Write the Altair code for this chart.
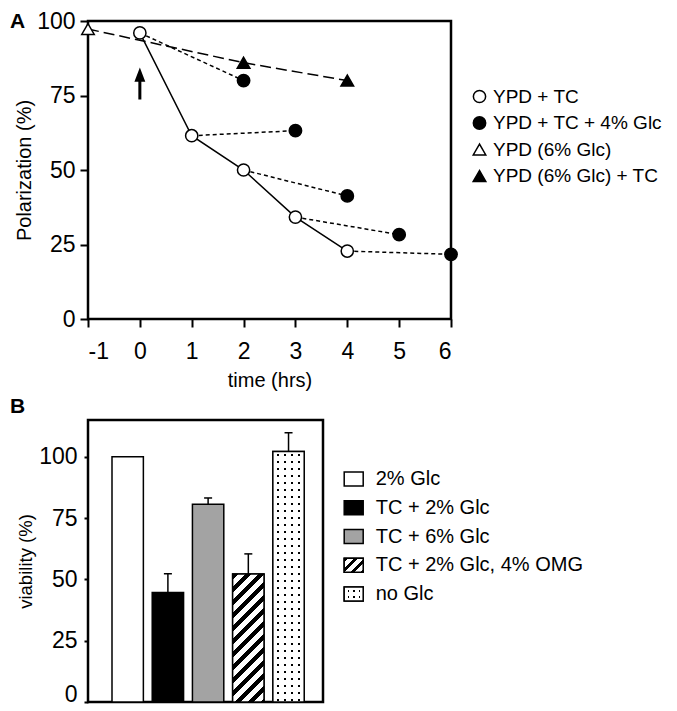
import altair as alt
import pandas as pd

FONT = "Liberation Sans"

# ---------------- Panel A data ----------------
series_names = ["YPD + TC", "YPD + TC + 4% Glc", "YPD (6% Glc)", "YPD (6% Glc) + TC"]
tc_time = [0, 1, 2, 3, 4]
tc_pol = [96, 61.5, 50, 34.2, 22.8]
glc_added_at = [0, 1, 2, 3, 4]
glc_time = [2, 3, 4, 5, 6]
glc_pol = [80, 63.2, 41.3, 28.3, 21.7]
ypd6_time = [-1]
ypd6_pol = [97.3]
ypd6tc_time = [2, 4]
ypd6tc_pol = [86, 80]
arrow_time = [0]
arrow_pol = [79]
x_ticks = [-1, 0, 1, 2, 3, 4, 5, 6]
y_ticks = [0, 25, 50, 75, 100]

# ---------------- Panel B data ----------------
conditions = ["2% Glc", "TC + 2% Glc", "TC + 6% Glc", "TC + 2% Glc, 4% OMG", "no Glc"]
viability = [100, 44.7, 80.6, 52.2, 102.2]
viability_err = [0, 7.6, 2.6, 8.2, 7.6]
bar_colors = ["white", "black", "#a3a3a3", "white", "white"]

# ---------------- sizes ----------------
WA, HA = 363, 298
WB, HB = 235, 282
YB_MAX = 115
P_IN, P_OUT, B_ALIGN = 0.22, 0.532, 0.561

# ---------------- helpers for fill patterns ----------------
def hatch_gradient(w, h, period, black_frac=0.45):
    span = w + h
    k = span / (w * w + h * h)
    stops = []
    j = 0
    while j * period < span:
        o0 = j * period / span
        o1 = min((j + black_frac) * period / span, 1)
        o2 = min((j + 1) * period / span, 1)
        stops += [{"offset": o0, "color": "black"}, {"offset": o1, "color": "black"},
                  {"offset": o1, "color": "white"}, {"offset": o2, "color": "white"}]
        j += 1
    return {"gradient": "linear", "x1": 0, "y1": 0, "x2": k * w, "y2": k * h, "stops": stops}


def stripe_gradient(length, period, first, thick, on, off, vertical):
    stops = [{"offset": 0, "color": off}]
    pos = first
    while pos + thick < length:
        a, b = pos / length, (pos + thick) / length
        stops += [{"offset": a, "color": off}, {"offset": a, "color": on},
                  {"offset": b, "color": on}, {"offset": b, "color": off}]
        pos += period
    stops.append({"offset": 1, "color": off})
    g = {"gradient": "linear", "x1": 0, "y1": 0, "stops": stops}
    if vertical:
        g.update({"x2": 0, "y2": 1})
    else:
        g.update({"x2": 1, "y2": 0})
    return g


CLEAR = "rgba(255,255,255,0)"
step = WB / (len(conditions) - P_IN + 2 * P_OUT)
bw = step * (1 - P_IN)
h_omg = viability[3] / YB_MAX * HB
h_noglc = viability[4] / YB_MAX * HB

hatch_bar = hatch_gradient(bw, h_omg, 13.0)
dot_rows_bar = stripe_gradient(h_noglc, 7.0, 3.0, 1.8, "black", "white", True)
dot_cols_bar = stripe_gradient(bw, 7.2, 4.0, 1.8, CLEAR, "white", False)

SW_W, SW_H = 19, 14
hatch_sw = hatch_gradient(SW_W, SW_H, 10.0)
dot_rows_sw = stripe_gradient(SW_H, 5.5, 3.5, 1.6, "black", "white", True)
dot_cols_sw = stripe_gradient(SW_W, 5.5, 3.5, 1.6, CLEAR, "white", False)
RECT_PATH = "M-1,-0.737L1,-0.737L1,0.737L-1,0.737Z"
ARROW_PATH = "M0,-1L0.34,-0.12L0.094,-0.12L0.094,1L-0.094,1L-0.094,-0.12L-0.34,-0.12Z"

# ---------------- Panel A frames ----------------
pts = pd.DataFrame(
    [{"series": series_names[0], "time": t, "pol": p} for t, p in zip(tc_time, tc_pol)]
    + [{"series": series_names[1], "time": t, "pol": p} for t, p in zip(glc_time, glc_pol)]
    + [{"series": series_names[2], "time": t, "pol": p} for t, p in zip(ypd6_time, ypd6_pol)]
    + [{"series": series_names[3], "time": t, "pol": p} for t, p in zip(ypd6tc_time, ypd6tc_pol)]
)
tc_df = pd.DataFrame({"time": tc_time, "pol": tc_pol})
seg_rows = []
for i, start in enumerate(glc_added_at):
    j = tc_time.index(start)
    seg_rows.append({"seg": i, "time": start, "pol": tc_pol[j]})
    seg_rows.append({"seg": i, "time": glc_time[i], "pol": glc_pol[i]})
seg_df = pd.DataFrame(seg_rows)
ld_df = pd.DataFrame({"time": ypd6_time + ypd6tc_time, "pol": ypd6_pol + ypd6tc_pol})
arrow_df = pd.DataFrame({"time": arrow_time, "pol": arrow_pol})

xA = alt.X("time:Q", scale=alt.Scale(domain=[-1, 6], nice=False, zero=False),
           axis=alt.Axis(values=x_ticks, title="time (hrs)", tickSize=8, labelPadding=13,
                         titlePadding=7, labelExpr="'' + datum.value"))
yA = alt.Y("pol:Q", scale=alt.Scale(domain=[0, 100], nice=False),
           axis=alt.Axis(values=y_ticks, title="Polarization (%)", tickSize=8, labelPadding=5,
                         titlePadding=2))

legA = alt.Legend(title=None, orient="none", legendX=382, legendY=66, labelFont=FONT,
                  labelFontSize=19, labelColor="black", labelLimit=400,
                  symbolStrokeWidth=1.5, symbolOpacity=1, rowPadding=6.5, labelOffset=4)

solid = alt.Chart(tc_df).mark_line(color="black", strokeWidth=1.5).encode(x=xA, y=yA)
dashed = alt.Chart(seg_df).mark_line(color="black", strokeWidth=1.5, strokeDash=[4, 3]).encode(
    x=xA, y=yA, detail="seg:N")
longdash = alt.Chart(ld_df).mark_line(color="black", strokeWidth=1.5, strokeDash=[11, 5]).encode(
    x=xA, y=yA)
points = alt.Chart(pts).mark_point(filled=True, strokeWidth=1.5, opacity=1).encode(
    x=xA, y=yA,
    shape=alt.Shape("series:N", scale=alt.Scale(domain=series_names,
                    range=["circle", "circle", "triangle-up", "triangle-up"]), legend=legA),
    fill=alt.Fill("series:N", scale=alt.Scale(domain=series_names,
                  range=["white", "black", "white", "black"]), legend=legA),
    stroke=alt.Stroke("series:N", scale=alt.Scale(domain=series_names,
                      range=["black", "black", "black", "black"]), legend=legA),
    size=alt.Size("series:N", scale=alt.Scale(domain=series_names,
                  range=[150, 160, 200, 200]), legend=legA),
)
arrow = alt.Chart(arrow_df).mark_point(shape=ARROW_PATH, size=1024, filled=True, fill="black",
                                       strokeWidth=0, opacity=1).encode(x=xA, y=yA)
labelA = alt.Chart(pd.DataFrame({"t": ["A"]})).mark_text(
    font=FONT, fontSize=21, fontWeight="bold", align="left", baseline="top",
    color="black").encode(text="t:N", x=alt.value(-78), y=alt.value(-10.5))

panelA = alt.layer(solid, dashed, longdash, points, arrow, labelA).properties(width=WA, height=HA)

# ---------------- Panel B ----------------
bdf = pd.DataFrame({"cond": conditions, "v": viability, "err": viability_err})
bdf["top"] = bdf["v"] + bdf["err"]

xB = alt.X("cond:N", sort=conditions,
           scale=alt.Scale(domain=conditions, paddingInner=P_IN, paddingOuter=P_OUT,
                           align=B_ALIGN), axis=None)
yB = alt.Y("v:Q", scale=alt.Scale(domain=[0, YB_MAX], nice=False),
           axis=alt.Axis(values=y_ticks, title="viability (%)", tickSize=4, labelPadding=7,
                         titlePadding=3, titleFontSize=18.5, labelFlush=True,
                         labelFlushOffset=4))
fillB = alt.Fill("cond:N", scale=alt.Scale(domain=conditions, range=bar_colors), legend=None)

base = alt.Chart(bdf)
bars = base.mark_bar(stroke="black", strokeWidth=1.5, opacity=1).encode(x=xB, y=yB, fill=fillB)
hatch = base.transform_filter(alt.datum.cond == conditions[3]).mark_bar(
    fill=hatch_bar, stroke="black", strokeWidth=1.5, opacity=1).encode(x=xB, y=yB)
dots1 = base.transform_filter(alt.datum.cond == conditions[4]).mark_bar(
    fill=dot_rows_bar, strokeWidth=0, opacity=1).encode(x=xB, y=yB)
dots2 = base.transform_filter(alt.datum.cond == conditions[4]).mark_bar(
    fill=dot_cols_bar, stroke="black", strokeWidth=1.5, opacity=1).encode(x=xB, y=yB)
err_rule = base.transform_filter(alt.datum.err > 0).mark_rule(
    color="black", strokeWidth=1.5).encode(x=xB, y=yB, y2="top:Q")
err_cap = base.transform_filter(alt.datum.err > 0).mark_tick(
    color="black", thickness=1.5, size=8, opacity=1).encode(x=xB, y=alt.Y("top:Q"))

bar_group = alt.layer(bars, hatch, dots1, dots2, err_rule, err_cap)

yL = alt.Y("cond:N", sort=conditions,
           scale=alt.Scale(domain=conditions, range=[59, 174], padding=0), axis=None)
SW_X = 265.7
sw = base.mark_point(shape=RECT_PATH, size=SW_W * SW_W, filled=True, stroke="black",
                     strokeWidth=1.5, opacity=1).encode(y=yL, x=alt.value(SW_X), fill=fillB)
sw_hatch = base.transform_filter(alt.datum.cond == conditions[3]).mark_point(
    shape=RECT_PATH, size=SW_W * SW_W, fill=hatch_sw, stroke="black", strokeWidth=1.5,
    opacity=1).encode(y=yL, x=alt.value(SW_X))
sw_dot1 = base.transform_filter(alt.datum.cond == conditions[4]).mark_point(
    shape=RECT_PATH, size=SW_W * SW_W, fill=dot_rows_sw, strokeWidth=0,
    opacity=1).encode(y=yL, x=alt.value(SW_X))
sw_dot2 = base.transform_filter(alt.datum.cond == conditions[4]).mark_point(
    shape=RECT_PATH, size=SW_W * SW_W, fill=dot_cols_sw, stroke="black", strokeWidth=1.5,
    opacity=1).encode(y=yL, x=alt.value(SW_X))
sw_text = base.mark_text(font=FONT, fontSize=20, align="left", baseline="middle",
                         color="black").encode(y=yL, x=alt.value(287.7), text="cond:N")
labelB = alt.Chart(pd.DataFrame({"t": ["B"]})).mark_text(
    font=FONT, fontSize=21, fontWeight="bold", align="left", baseline="top",
    color="black").encode(text="t:N", x=alt.value(-78), y=alt.value(-24.5))

legend_group = alt.layer(sw, sw_hatch, sw_dot1, sw_dot2, sw_text, labelB)

panelB = alt.layer(bar_group, legend_group).resolve_scale(y="independent").properties(
    width=WB, height=HB)

chart = alt.concat(panelA, panelB, columns=1, spacing=2, align="none").resolve_scale(
    fill="independent", shape="independent", stroke="independent", size="independent"
).properties(
    padding={"left": 0, "top": 0, "right": 0, "bottom": -3}
).configure_view(
    stroke="black", strokeWidth=2.5
).configure_axis(
    domain=False, grid=False, labelFont=FONT, titleFont=FONT, labelFontSize=23,
    titleFontSize=20, labelColor="black", titleColor="black", tickColor="black",
    tickWidth=2, titleFontWeight="normal"
)

chart.save("out.html", embed_options={"renderer": "svg", "actions": False})
